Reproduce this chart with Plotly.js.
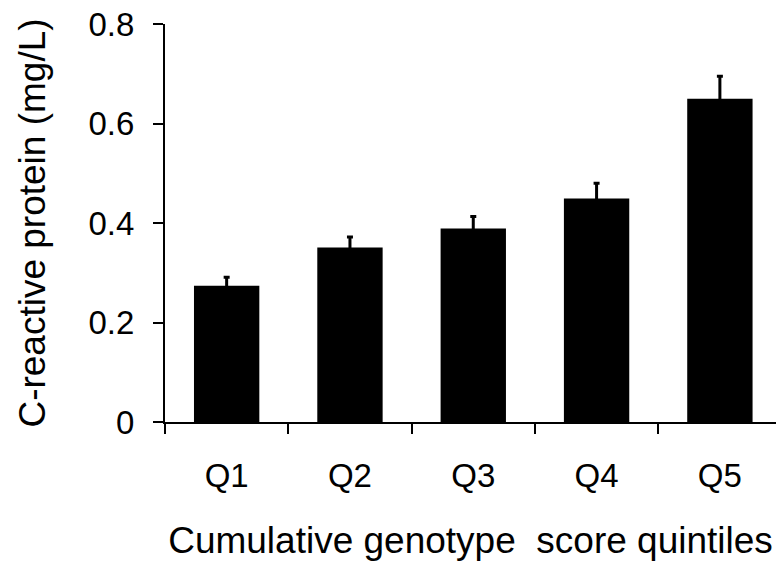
<!DOCTYPE html>
<html>
<head>
<meta charset="utf-8">
<script src="https://cdn.plot.ly/plotly-3.0.1.min.js"></script>
<style>html,body{margin:0;padding:0;background:#fff;}#chart{width:776px;height:563px;}</style>
</head>
<body>
<div id="chart"></div>
<script>
var categories = ["Q1", "Q2", "Q3", "Q4", "Q5"];
var crpValues = [0.274, 0.351, 0.389, 0.449, 0.650];
var crpErrors = [0.017, 0.021, 0.024, 0.031, 0.045];
var yTickValues = [0, 0.2, 0.4, 0.6, 0.8];
var yTickLabels = ["0", "0.2", "0.4", "0.6", "0.8"];

var font = "Liberation Sans, Arial, sans-serif";

var trace = {
  type: "bar",
  x: categories,
  y: crpValues,
  width: 0.53,
  marker: {color: "#000000", line: {width: 0}},
  error_y: {type: "data", array: crpErrors, symmetric: true, visible: true,
            color: "#000000", thickness: 3, width: 3},
  hoverinfo: "skip"
};

var layout = {
  width: 776, height: 563,
  margin: {l: 165, r: 0, t: 24, b: 141, pad: 0},
  paper_bgcolor: "#ffffff", plot_bgcolor: "#ffffff",
  showlegend: false,
  font: {family: font, color: "#000000", size: 33},
  xaxis: {
    type: "category",
    range: [-0.5, 4.455],
    showline: true, linecolor: "#000000", linewidth: 2,
    ticks: "outside", tickson: "boundaries", ticklen: 10, tickwidth: 2, tickcolor: "#000000",
    ticklabelstandoff: 23,
    tickfont: {family: font, size: 33, color: "#000000"},
    showgrid: false, zeroline: false,
    title: {text: "Cumulative genotype&nbsp; score quintiles", font: {family: font, size: 37, color: "#000000"}, standoff: 35},
    automargin: false
  },
  yaxis: {
    range: [0, 0.8],
    tickvals: yTickValues, ticktext: yTickLabels,
    showline: true, linecolor: "#000000", linewidth: 2,
    ticks: "outside", ticklen: 10, tickwidth: 2, tickcolor: "#000000",
    ticklabelstandoff: 12,
    tickfont: {family: font, size: 33, color: "#000000"},
    showgrid: false, zeroline: false,
    title: {text: "C-reactive protein (mg/L)", font: {family: font, size: 37, color: "#000000"}, standoff: 32},
    automargin: false
  }
};

Plotly.newPlot("chart", [trace], layout, {displayModeBar: false, staticPlot: true});
</script>
</body>
</html>
